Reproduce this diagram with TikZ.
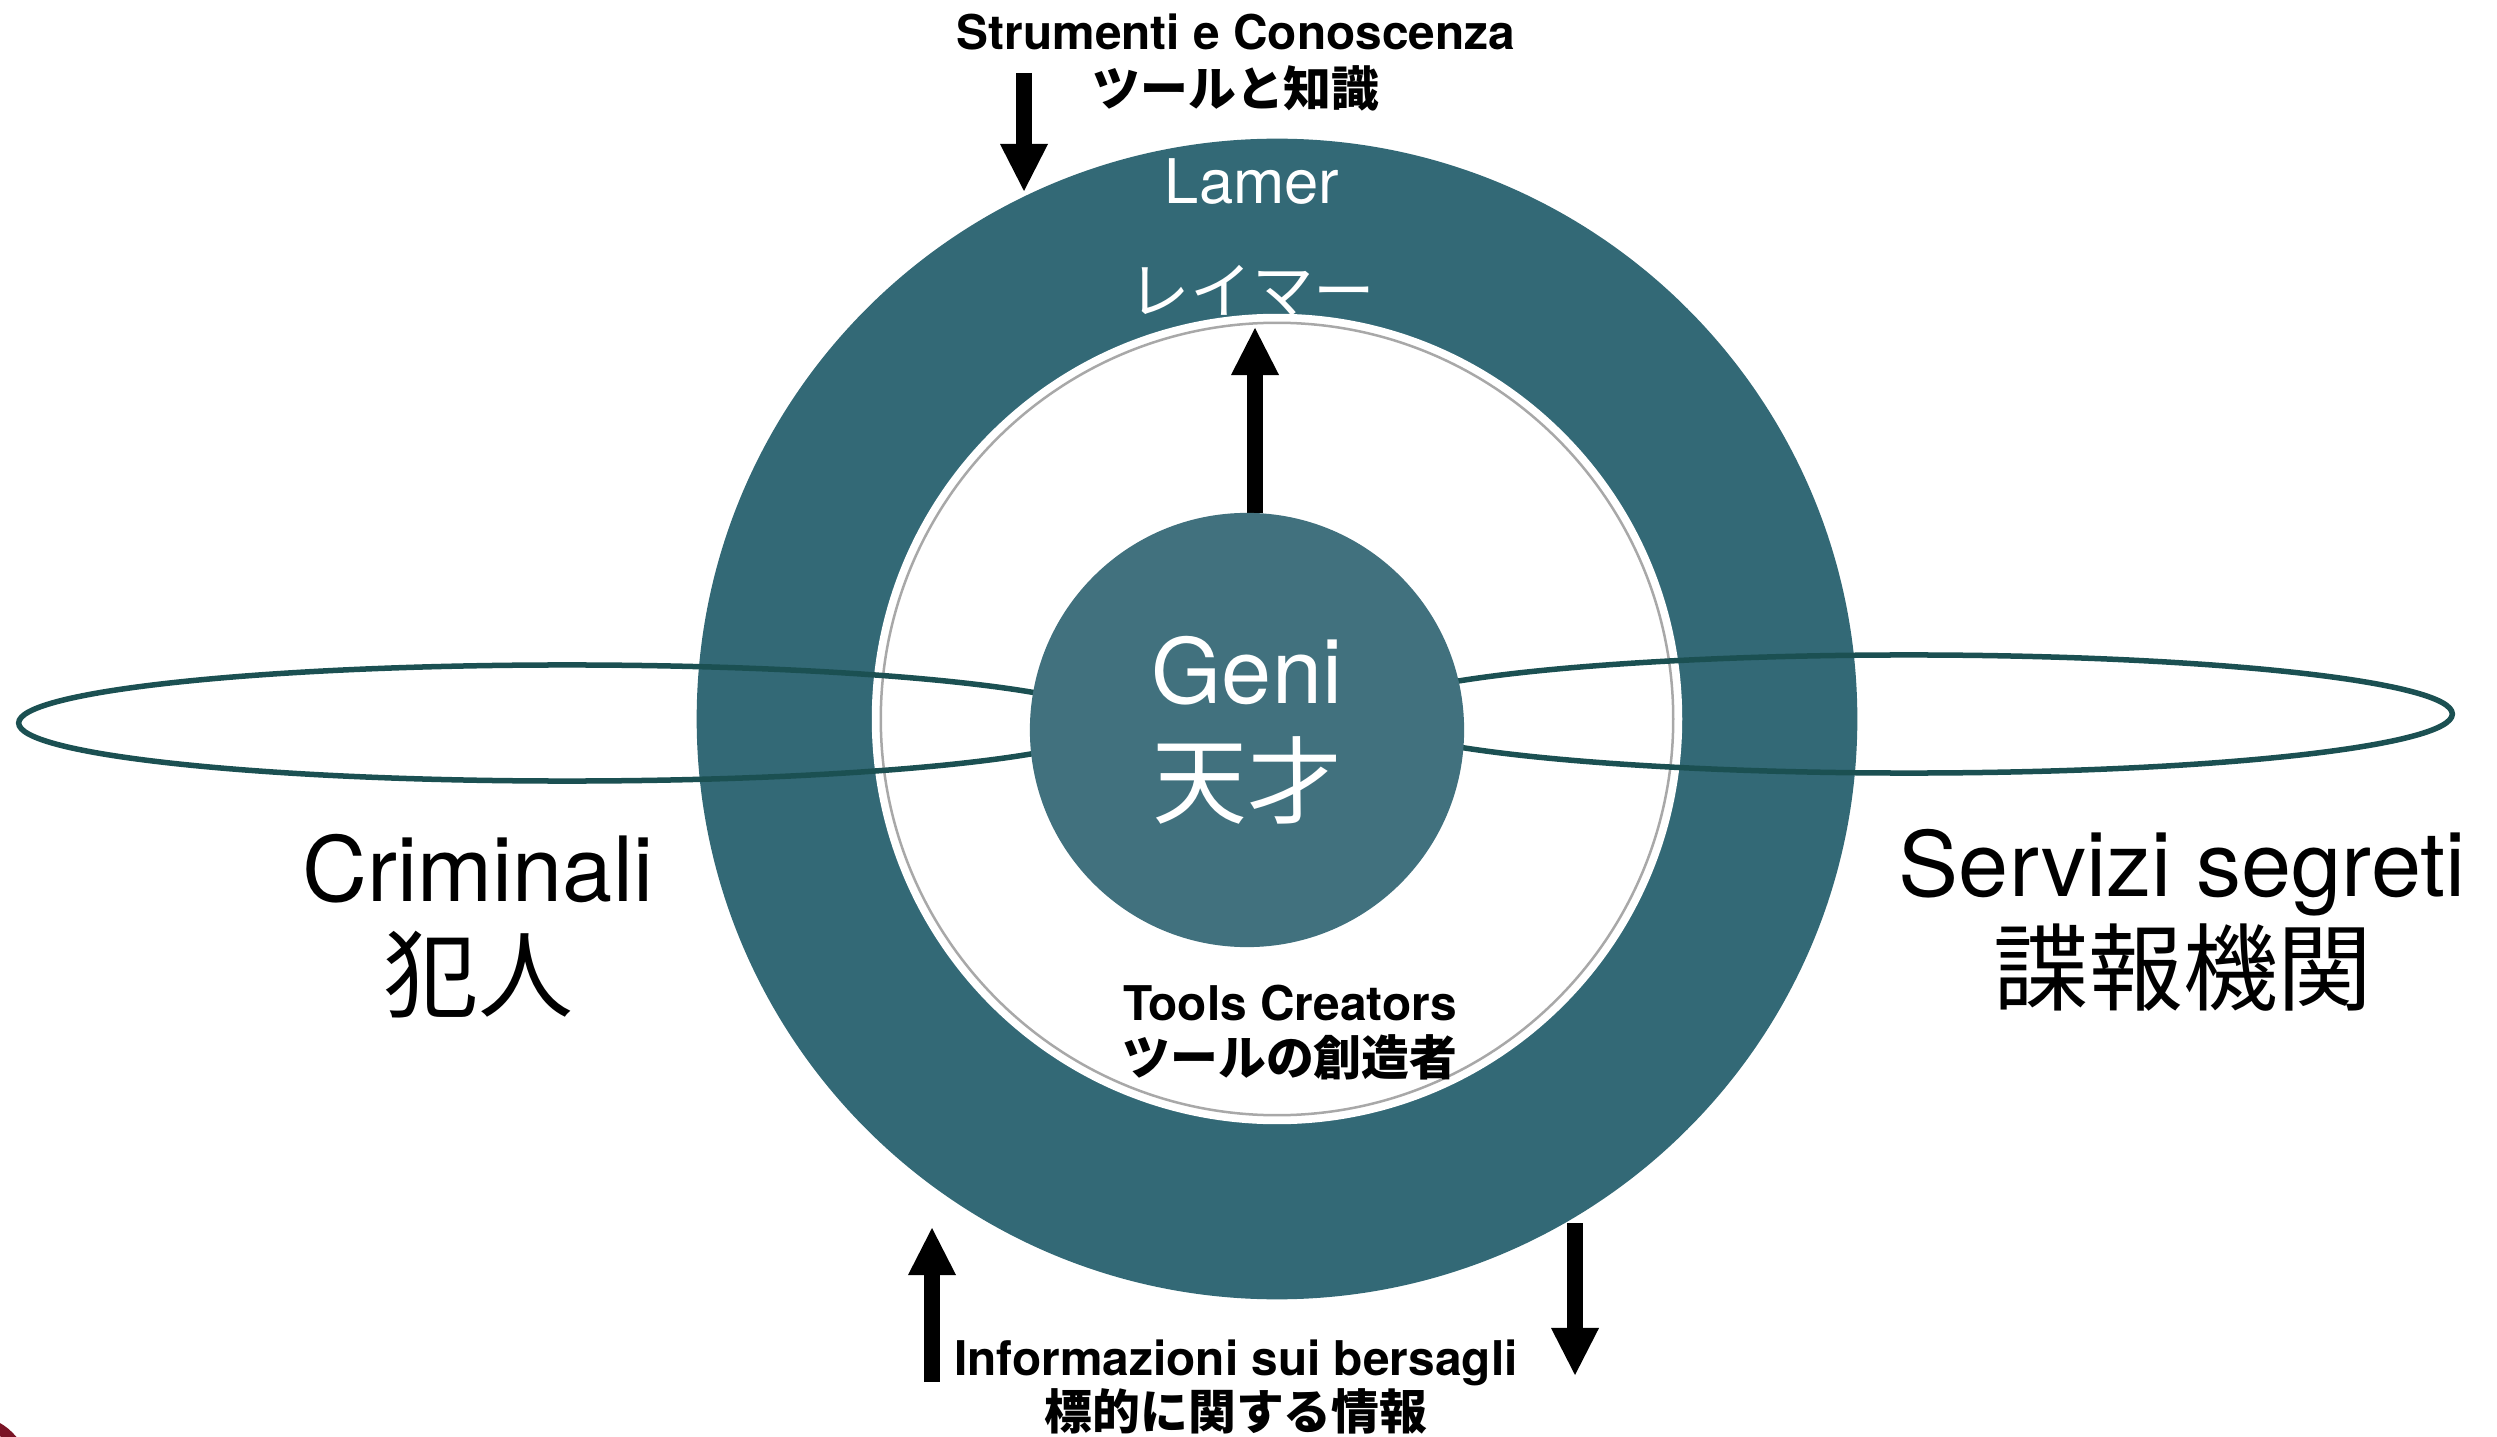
\documentclass[tikz,border=0pt]{standalone}
\usepackage{fontspec}
\setmainfont{TeX Gyre Heros}
\newfontfamily\jp{Noto Sans CJK JP}
\usetikzlibrary{arrows.meta,shapes.geometric}
\definecolor{ringc}{HTML}{336976}
\definecolor{genic}{HTML}{41717E}
\definecolor{ellc}{HTML}{1B5052}
\definecolor{grayc}{HTML}{A8A8A8}
\definecolor{logoc}{HTML}{7A1426}
\begin{document}
\begin{tikzpicture}[x=0.01cm,y=-0.01cm,
  blk/.style={line width=0.16cm, -{Triangle[width=0.48cm,length=0.47cm,line width=0pt]}},
  lbl/.style={inner sep=0pt, font=\fontsize{13.6pt}{16pt}\selectfont\bfseries},
  lbljp/.style={inner sep=0pt, font=\jp\fontsize{13.6pt}{16pt}\selectfont\bfseries},
  big/.style={inner sep=0pt, font=\fontsize{25.6pt}{30pt}\selectfont},
  bigjp/.style={inner sep=0pt, font=\jp\fontsize{27pt}{30pt}\selectfont},
  orbit/.style={ellipse, draw=ellc, line width=0.055cm, inner sep=0pt},
  disk/.style={circle, inner sep=0pt},
]
\fill[white] (0,0) rectangle (2497,1437);
\useasboundingbox (0,0) rectangle (2497,1437);
% rings
\node[disk, fill=ringc, minimum size=11.6cm] (ring) at (1277,719) {};
\node[disk, fill=white, minimum size=8.1cm] (disc) at (1277,719) {};
\node[disk, draw=grayc, line width=0.025cm, minimum size=7.92cm] (rim) at (1277,719) {};
% orbits
\node[orbit, minimum width=10.96cm, minimum height=1.16cm] (orbL) at (567,723) {};
\node[orbit, minimum width=10.86cm, minimum height=1.18cm] (orbR) at (1909,714) {};
% arrows
\coordinate (a2e) at (1255,328);
\draw[blk] (1255,513) -- (a2e);
% core
\node[disk, fill=genic, minimum size=4.34cm] (geni) at (1247,730) {};
\coordinate (a1s) at (1024,73);
\coordinate (a1e) at (1024,191);
\draw[blk] (a1s) -- (a1e);
\coordinate (a3s) at (932,1382);
\coordinate (a3e) at (932,1228);
\draw[blk] (a3s) -- (a3e);
\coordinate (a4s) at (1575,1223);
\coordinate (a4e) at (1575,1375);
\draw[blk] (a4s) -- (a4e);
% texts
\node[lbl, anchor=base] (strum) at (1236,50) {Strumenti e Conoscenza};
\node[lbljp] (strumjp) at (1236,88) {ツールと知識};
\node[inner sep=0pt, anchor=base, text=white, font=\fontsize{17.5pt}{20pt}\selectfont] (lamer) at (1252,204) {Lamer};
\node[inner sep=0pt, text=white, font=\jp\fontsize{17.5pt}{20pt}\selectfont] (lamerjp) at (1252,291) {レイマー};
\node[big, anchor=base, text=white] (genitxt) at (1247,703) {Geni};
\node[bigjp, text=white] (genijp) at (1247,780) {天才};
\node[lbl, anchor=base] (tc) at (1290,1020) {Tools Creators};
\node[lbljp] (tcjp) at (1290,1057) {ツールの創造者};
\node[big, anchor=base] (crim) at (478,901) {Criminali};
\node[bigjp] (crimjp) at (478,975) {犯人};
\node[big, anchor=base] (serv) at (2182,896) {Servizi segreti};
\node[bigjp] (servjp) at (2183,968) {諜報機関};
\node[lbl, anchor=base] (info) at (1236,1375) {Informazioni sui bersagli};
\node[lbljp] (infojp) at (1236,1411) {標的に関する情報};
% corner logo fragment
\fill[logoc] (-30,1475) circle (0.6cm);
\draw[white, line width=0.02cm] (-30,1475) circle (0.48cm);
\end{tikzpicture}
\end{document}
